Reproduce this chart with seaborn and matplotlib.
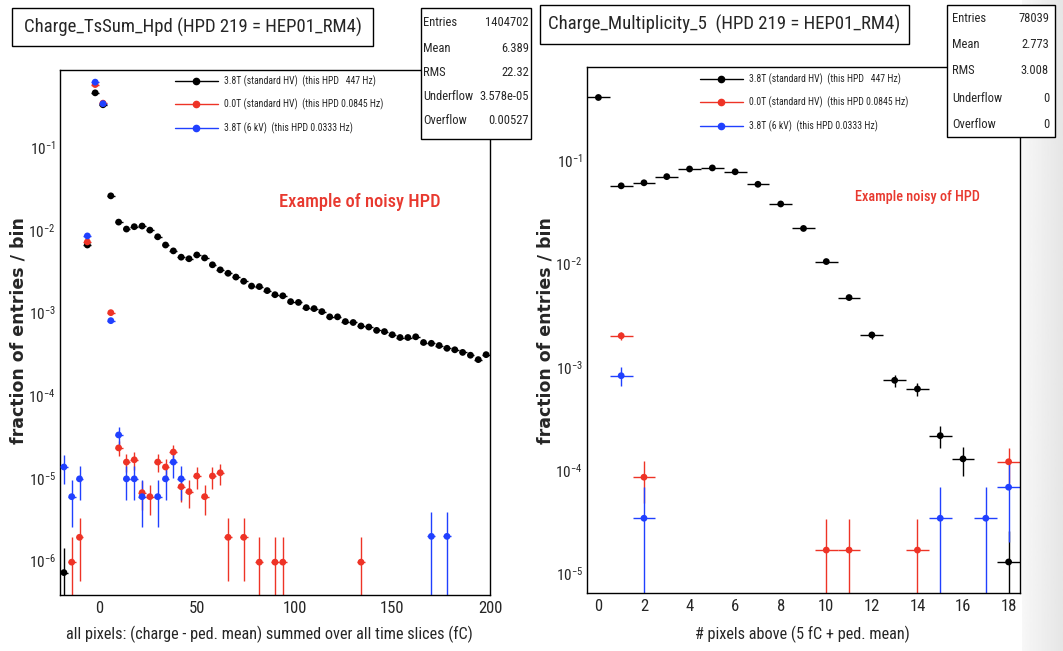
import numpy as np
import matplotlib
matplotlib.use('Agg')
import matplotlib.pyplot as plt
import matplotlib.ticker as mticker
from matplotlib.patches import Rectangle
from matplotlib.lines import Line2D
import seaborn as sns

# Left panel: Charge_TsSum_Hpd, bins of 4 fC (values = bin centres)
ts_black_x = [-18, -6, -2, 2, 6, 10, 14, 18, 22, 26, 30, 34, 38, 42, 46, 50, 54, 58, 62, 66,
              70, 74, 78, 82, 86, 90, 94, 98, 102, 106, 110, 114, 118, 122, 126, 130, 134,
              138, 142, 146, 150, 154, 158, 162, 166, 170, 174, 178, 182, 186, 190, 194, 198]
ts_black_y = [7.1e-7, 6.6e-3, 0.46, 0.33, 0.026, 0.0125, 0.0103, 0.0110, 0.0112, 0.0100,
              0.0083, 0.0066, 0.0056, 0.0047, 0.0045, 0.0050, 0.0046, 0.0038, 0.0033, 0.0030,
              0.0027, 0.0024, 0.0021, 0.00207, 0.00185, 0.00165, 0.0016, 0.00136, 0.00133,
              0.00115, 0.00112, 0.00103, 8.9e-4, 8.9e-4, 7.8e-4, 7.6e-4, 6.9e-4, 6.7e-4,
              6.1e-4, 5.9e-4, 5.4e-4, 5.0e-4, 5.0e-4, 5.1e-4, 4.35e-4, 4.25e-4, 4.0e-4,
              3.7e-4, 3.55e-4, 3.3e-4, 3.05e-4, 2.7e-4, 3.1e-4]
ts_red_x = [-14, -10, -6, -2, 2, 6, 10, 14, 18, 22, 26, 30, 34, 38, 42, 46, 50, 54, 58, 62,
            66, 74, 82, 90, 94, 134]
ts_red_y = [0.95e-6, 1.9e-6, 7.2e-3, 0.58, 0.345, 1.0e-3, 2.3e-5, 1.55e-5, 1.65e-5, 6.6e-6,
            5.9e-6, 1.55e-5, 1.35e-5, 2.05e-5, 7.8e-6, 6.8e-6, 1.05e-5, 5.9e-6, 1.05e-5,
            1.15e-5, 1.9e-6, 1.9e-6, 0.95e-6, 0.95e-6, 0.95e-6, 0.95e-6]
ts_blue_x = [-18, -14, -10, -6, -2, 2, 6, 10, 14, 18, 22, 30, 34, 38, 42, 170, 178]
ts_blue_y = [1.35e-5, 5.9e-6, 9.7e-6, 8.5e-3, 0.62, 0.34, 8.0e-4, 3.3e-5, 9.7e-6, 9.7e-6,
             5.9e-6, 5.9e-6, 9.7e-6, 1.55e-5, 9.7e-6, 1.95e-6, 1.95e-6]
# weight of a single entry in each normalised histogram (for the Poisson error bars)
ts_unit = {'black': 7.1e-7, 'red': 0.95e-6, 'blue': 1.95e-6}

# Right panel: Charge_Multiplicity_5
mu_black_x = [0, 1, 2, 3, 4, 5, 6, 7, 8, 9, 10, 11, 12, 13, 14, 15, 16, 18]
mu_black_y = [0.41, 0.057, 0.061, 0.070, 0.083, 0.085, 0.078, 0.059, 0.038, 0.022, 0.0105,
              0.0047, 0.00204, 7.4e-4, 6.1e-4, 2.15e-4, 1.28e-4, 1.28e-5]
mu_red_x = [1, 2, 10, 11, 14, 18]
mu_red_y = [2.0e-3, 8.5e-5, 1.67e-5, 1.67e-5, 1.67e-5, 1.2e-4]
mu_blue_x = [1, 2, 15, 17, 18]
mu_blue_y = [8.2e-4, 3.4e-5, 3.4e-5, 3.4e-5, 6.8e-5]
mu_unit = {'black': 1.28e-5, 'red': 1.67e-5, 'blue': 3.4e-5}

legend_labels = ['3.8T (standard HV)  (this HPD   447 Hz)',
                 '0.0T (standard HV)  (this HPD 0.0845 Hz)',
                 '3.8T (6 kV)  (this HPD 0.0333 Hz)']
ts_stats = [('Entries', '1404702'), ('Mean', '6.389'), ('RMS', '22.32'),
            ('Underflow', '3.578e-05'), ('Overflow', '0.00527')]
mu_stats = [('Entries', '78039'), ('Mean', '2.773'), ('RMS', '3.008'),
            ('Underflow', '0'), ('Overflow', '0')]

COLORS = {'black': 'black', 'red': '#ee3326', 'blue': '#2040ff'}

sns.set_style('white')
plt.rcParams['font.family'] = ['Roboto Condensed', 'DejaVu Sans']

W, H = 1063, 651
fig = plt.figure(figsize=(W / 100, H / 100), dpi=100)


def fx(px):
    return px / W


def fy(py):
    return 1 - py / H


def draw_series(ax, x, y, unit, color, half):
    x = np.asarray(x, float)
    y = np.asarray(y, float)
    up = np.sqrt(y * unit)
    lo = np.minimum(up, y * 0.999)
    ax.errorbar(x, y, yerr=[lo, up], xerr=half, fmt='none', ecolor=color,
                elinewidth=1, capsize=0, zorder=2)
    sns.scatterplot(x=x, y=y, color=color, s=24, edgecolor='none', ax=ax,
                    zorder=3, legend=False)


def style_axes(ax, xmaj, xmin, ylo, yhi):
    ax.set_yscale('log')
    ax.set_ylim(ylo, yhi)
    decades = [10.0 ** e for e in range(-7, 1) if ylo <= 10.0 ** e <= yhi]
    ax.xaxis.set_major_locator(mticker.MultipleLocator(xmaj))
    ax.xaxis.set_minor_locator(mticker.MultipleLocator(xmin))
    ax.yaxis.set_major_locator(mticker.FixedLocator(decades))
    ax.yaxis.set_minor_locator(mticker.LogLocator(base=10, subs=np.arange(2, 10), numticks=20))
    ax.yaxis.set_minor_formatter(mticker.NullFormatter())
    ax.yaxis.set_major_formatter(mticker.LogFormatterSciNotation())
    ax.tick_params(which='both', direction='in', top=False, right=False, width=1,
                   color='black')
    ax.tick_params(axis='x', which='major', length=11, pad=4, labelsize=12)
    ax.tick_params(axis='x', which='minor', length=6)
    ax.tick_params(axis='y', which='major', length=9.5, pad=3, labelsize=11)
    ax.tick_params(axis='y', which='minor', length=5)
    for s in ax.spines.values():
        s.set_color('black')
        s.set_linewidth(1)
    ax.set_xlabel('')
    ax.set_ylabel('')


# ---- left panel ----
axl = fig.add_axes([fx(60), fy(595), fx(430), (595 - 70) / H])
for key, xs, ys in [('black', ts_black_x, ts_black_y), ('red', ts_red_x, ts_red_y),
                    ('blue', ts_blue_x, ts_blue_y)]:
    draw_series(axl, xs, ys, ts_unit[key], COLORS[key], 2)
style_axes(axl, 50, 10, 3.8e-7, 0.87)
axl.set_xlim(-20, 200)

# ---- right panel ----
axr = fig.add_axes([fx(587), fy(593), fx(433), (593 - 67) / H])
for key, xs, ys in [('black', mu_black_x, mu_black_y), ('red', mu_red_x, mu_red_y),
                    ('blue', mu_blue_x, mu_blue_y)]:
    draw_series(axr, xs, ys, mu_unit[key], COLORS[key], 0.5)
style_axes(axr, 2, 0.5, 6.4e-6, 0.81)
axr.set_xlim(-0.5, 18.5)

# legends
handles = [Line2D([], [], color=COLORS[k], lw=1, marker='o', markersize=4.5)
           for k in ['black', 'red', 'blue']]
for ax, lx, ly in [(axl, 175, 75), (axr, 700, 73)]:
    ax.legend(handles, legend_labels, loc='upper left', bbox_to_anchor=(fx(lx), fy(ly)),
              bbox_transform=fig.transFigure, frameon=False, fontsize=7,
              handlelength=4.4, handletextpad=0.6, labelspacing=1.25, borderpad=0,
              borderaxespad=0)

# axis labels
fig.text(fx(269), fy(634), 'all pixels: (charge - ped. mean) summed over all time slices (fC)',
         ha='center', va='center', fontsize=11.7)
fig.text(fx(802), fy(634), '# pixels above (5 fC + ped. mean)',
         ha='center', va='center', fontsize=11.7)
for x in [19, 545]:
    fig.text(fx(x), fy(331), 'fraction of entries / bin', rotation=90, ha='center',
             va='center', fontsize=12.5, fontweight='bold', family=['DejaVu Sans'])

# red annotations
fig.text(fx(360), fy(202), 'Example of noisy HPD', color='#e8392f', fontsize=13.2,
         fontweight=500, ha='center', va='center')
fig.text(fx(917), fy(197), 'Example noisy of HPD', color='#e8392f', fontsize=10.3,
         fontweight=500, ha='center', va='center')

# title boxes
for (x0, y0, x1, y1), title in [((12, 8, 373, 46), 'Charge_TsSum_Hpd (HPD 219 = HEP01_RM4)'),
                                ((540, 5, 909, 44), 'Charge_Multiplicity_5  (HPD 219 = HEP01_RM4)')]:
    fig.patches.append(Rectangle((fx(x0), fy(y1)), fx(x1 - x0), (y1 - y0) / H,
                                 transform=fig.transFigure, facecolor='white',
                                 edgecolor='black', lw=1, zorder=5))
    fig.text(fx((x0 + x1) / 2), fy((y0 + y1) / 2), title, ha='center', va='center',
             fontsize=13.5, zorder=6)

# grey page edge on the right
bg = fig.add_axes([fx(1022), 0, fx(41), 1], zorder=-1)
bg.imshow(np.linspace(0.97, 0.90, 64)[None, :], cmap='gray', vmin=0, vmax=1,
          aspect='auto', extent=[0, 1, 0, 1])
bg.axis('off')

# stats boxes
for (x0, y0, x1, y1), rows, rowy, lx, rx in [
        ((421, 8, 531, 139), ts_stats, [23, 48, 73, 97, 121], 423, 529),
        ((947, 5, 1055, 137), mu_stats, [19, 45, 71, 99, 125], 952, 1049)]:
    fig.patches.append(Rectangle((fx(x0), fy(y1)), fx(x1 - x0), (y1 - y0) / H,
                                 transform=fig.transFigure, facecolor='white',
                                 edgecolor='black', lw=1, zorder=5))
    for (name, val), ry in zip(rows, rowy):
        fig.text(fx(lx), fy(ry), name, ha='left', va='center', fontsize=9, zorder=6)
        fig.text(fx(rx), fy(ry), val, ha='right', va='center', fontsize=9, zorder=6)

fig.savefig('out.png', dpi=100)
